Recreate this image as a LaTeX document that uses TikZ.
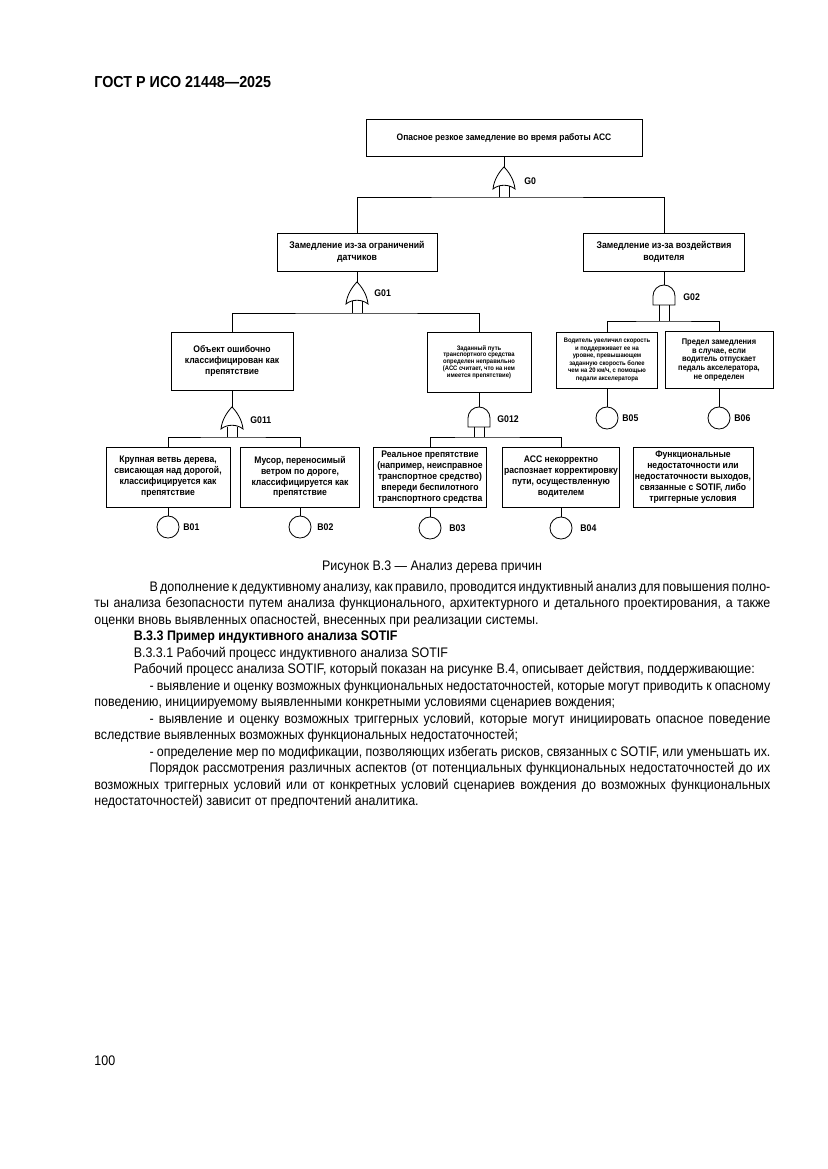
\documentclass[tikz,border=0pt]{standalone}
\usepackage{fontspec}
\setmainfont{Liberation Sans}[FakeStretch=0.9]
\begin{document}
\begin{tikzpicture}[x=0.254mm, y=-0.254mm, line width=0.6pt,
  box/.style={draw, align=center, inner sep=0pt, font=\bfseries\fontsize{6.9}{7.9}\selectfont},
  sz/.style 2 args={minimum width=#1*0.254mm, minimum height=#2*0.254mm},
  event/.style={draw, circle, minimum size=5.6mm, inner sep=0pt},
  tag/.style={anchor=west, inner sep=0pt, font=\bfseries\fontsize{7}{8}\selectfont},
  orgate/.pic={\draw (0,0) .. controls (4,4) and (10,12) .. (11,22)
      .. controls (5,17) and (-5,17) .. (-11,22)
      .. controls (-10,12) and (-4,4) .. (0,0) -- cycle;
    \coordinate (-in) at (0,0); \coordinate (-l) at (-5,19.5); \coordinate (-r) at (5,19.5);},
  andgate/.pic={\draw (-11,20) -- (-11,11) arc[start angle=180, end angle=0, radius=2.794mm] -- (11,20) -- cycle;
    \coordinate (-in) at (0,0); \coordinate (-l) at (-5,20); \coordinate (-r) at (5,20);}]
  \useasboundingbox[fill=white] (0,0) rectangle (827,1169);

  \node[anchor=base west, inner sep=0pt, font=\bfseries\fontsize{11.5}{13}\selectfont] (head) at (94,88) {ГОСТ Р ИСО 21448—2025};

  \node[box, sz={276}{37}, font=\bfseries\fontsize{6.8}{7.9}\selectfont] (top) at (504,138) {Опасное резкое замедление во время работы АСС};
  \node[box, sz={160}{38}, font=\bfseries\fontsize{7}{8.6}\selectfont] (s1) at (357,252) {Замедление из-за ограничений\\датчиков};
  \node[box, sz={161}{38}, font=\bfseries\fontsize{7}{8.6}\selectfont] (s2) at (664,252) {Замедление из-за воздействия\\водителя};
  \node[box, sz={122}{58}] (o1) at (232,361) {Объект ошибочно\\классифицирован как\\препятствие};
  \node[box, sz={104}{60}, font=\bfseries\fontsize{4.7}{4.9}\selectfont] (p1) at (479,362) {Заданный путь\\транспортного средства\\определен неправильно\\(АСС считает, что на нем\\имеется препятствие)};
  \node[box, sz={101}{56}, font=\bfseries\fontsize{4.7}{5.4}\selectfont] (d1) at (607,360) {Водитель увеличил скорость\\и поддерживает ее на\\уровне, превышающем\\заданную скорость более\\чем на 20 км/ч, с помощью\\педали акселератора};
  \node[box, sz={108}{57}, font=\bfseries\fontsize{6}{6.3}\selectfont] (d2) at (719,360) {Предел замедления\\в случае, если\\водитель отпускает\\педаль акселератора,\\не определен};
  \node[box, sz={124}{60}] (b1) at (168,477) {Крупная ветвь дерева,\\свисающая над дорогой,\\классифицируется как\\препятствие};
  \node[box, sz={119}{60}] (b2) at (300,477) {Мусор, переносимый\\ветром по дороге,\\классифицируется как\\препятствие};
  \node[box, sz={113}{60}] (b3) at (430,477) {Реальное препятствие\\(например, неисправное\\транспортное средство)\\впереди беспилотного\\транспортного средства};
  \node[box, sz={117}{60}] (b4) at (561,477) {АСС некорректно\\распознает корректировку\\пути, осуществленную\\водителем};
  \node[box, sz={120}{60}] (b5) at (693,477) {Функциональные\\недостаточности или\\недостаточности выходов,\\связанные с SOTIF, либо\\триггерные условия};

  \pic (g0) at (504,167) {orgate};
  \pic (g01) at (357,282) {orgate};
  \pic (g02) at (664,285) {andgate};
  \pic (g011) at (232,407) {orgate};
  \pic (g012) at (479,407) {andgate};
  \node[tag] (t0) at (524,181) {G0};
  \node[tag] (t01) at (374,293) {G01};
  \node[tag] (t02) at (683,297) {G02};
  \node[tag] (t011) at (250,420) {G011};
  \node[tag] (t012) at (497,419) {G012};

  \coordinate (h0) at (504,197);
  \coordinate (h01) at (357,313);
  \coordinate (h02) at (664,321);
  \coordinate (h011) at (232,437);
  \coordinate (h012) at (479,437);

  \draw (top) -- (g0-in);
  \draw (g0-l) -- (g0-l |- h0) (g0-r) -- (g0-r |- h0);
  \draw (s1.north) |- (h0) -| (s2.north);
  \draw (s1) -- (g01-in);
  \draw (g01-l) -- (g01-l |- h01) (g01-r) -- (g01-r |- h01);
  \draw (o1.north) |- (h01) -| (p1.north);
  \draw (s2) -- (g02-in);
  \draw (g02-l) -- (g02-l |- h02) (g02-r) -- (g02-r |- h02);
  \draw (d1.north) |- (h02) -| (d2.north);
  \draw (o1) -- (g011-in);
  \draw (g011-l) -- (g011-l |- h011) (g011-r) -- (g011-r |- h011);
  \draw (b1.north) |- (h011) -| (b2.north);
  \draw (p1) -- (g012-in);
  \draw (g012-l) -- (g012-l |- h012) (g012-r) -- (g012-r |- h012);
  \draw (b3.north) |- (h012) -| (b4.north);

  \node[event] (e1) at (168,527) {};
  \node[event] (e2) at (300,527) {};
  \node[event] (e3) at (430,528) {};
  \node[event] (e4) at (561,528) {};
  \node[event] (e5) at (607,418) {};
  \node[event] (e6) at (719,418) {};
  \draw (b1) -- (e1) (b2) -- (e2) (b3) -- (e3) (b4) -- (e4) (d1) -- (e5) (d2) -- (e6);
  \node[tag] (l1) at (183,527) {B01};
  \node[tag] (l2) at (317,527) {B02};
  \node[tag] (l3) at (449,528) {B03};
  \node[tag] (l4) at (580,528) {B04};
  \node[tag] (l5) at (622,418) {B05};
  \node[tag] (l6) at (734,418) {B06};

  \node[font=\fontsize{10}{12}\selectfont] (cap) at (432,567) {Рисунок В.3 — Анализ дерева причин};

  \node[anchor=north west, inner sep=0pt, text width=171.7mm, align=justify,
    font=\fontsize{10}{11.92}\selectfont] (body) at (94,579.4) {\hyphenpenalty=10000
  \strut\hspace*{14mm}В дополнение к дедуктивному анализу, как правило, проводится индуктивный анализ для повышения полно-\linebreak
  ты анализа безопасности путем анализа функционального, архитектурного и детального проектирования, а также\linebreak
  оценки вновь выявленных опасностей, внесенных при реализации системы.\par
  \hspace*{10mm}\textbf{В.3.3 Пример индуктивного анализа SOTIF}\par
  \hspace*{10mm}В.3.3.1 Рабочий процесс индуктивного анализа SOTIF\par
  \hspace*{10mm}Рабочий процесс анализа SOTIF, который показан на рисунке В.4, описывает действия, поддерживающие:\par
  \hspace*{14mm}- выявление и оценку возможных функциональных недостаточностей, которые могут приводить к опасному\linebreak
  поведению, инициируемому выявленными конкретными условиями сценариев вождения;\par
  \hspace*{14mm}- выявление и оценку возможных триггерных условий, которые могут инициировать опасное поведение\linebreak
  вследствие выявленных возможных функциональных недостаточностей;\par
  \hspace*{14mm}- определение мер по модификации, позволяющих избегать рисков, связанных с SOTIF, или уменьшать их.\par
  \hspace*{14mm}Порядок рассмотрения различных аспектов (от потенциальных функциональных недостаточностей до их\linebreak
  возможных триггерных условий или от конкретных условий сценариев вождения до возможных функциональных\linebreak
  недостаточностей) зависит от предпочтений аналитика.\par};

  \node[anchor=base west, inner sep=0pt, font=\fontsize{10}{12}\selectfont] (pnum) at (94,1065) {100};
\end{tikzpicture}
\end{document}
